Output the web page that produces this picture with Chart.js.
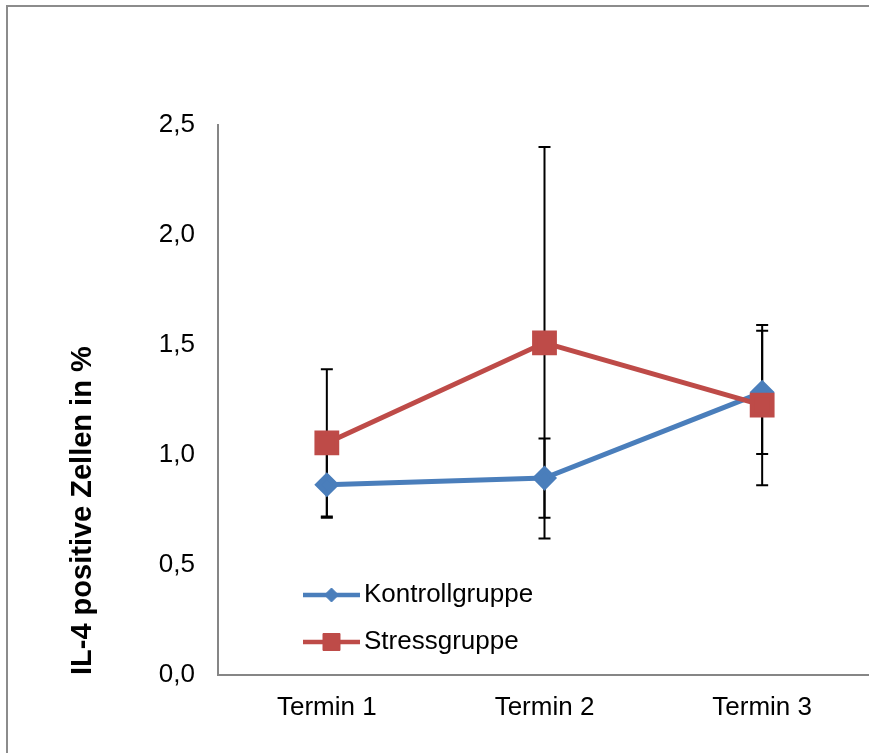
<!DOCTYPE html>
<html>
<head>
<meta charset="utf-8">
<script src="https://cdn.jsdelivr.net/npm/chart.js@4"></script>
<style>
html, body { margin: 0; padding: 0; overflow: hidden; background: #fff; }
#frame { position: absolute; left: 6px; top: 5px; width: 900px; height: 800px; border: 2px solid #8c8c8c; }
#il4 { position: absolute; left: 0; top: 0; }
</style>
</head>
<body>
<div id="frame"></div>
<canvas id="il4" width="890" height="753"></canvas>
<script>
const termine = ['Termin 1', 'Termin 2', 'Termin 3']
const kontrolle = [0.865, 0.895, 1.285]
const kontrolleErr = [0.15, 0.18, 0.28]
const stress = [1.055, 1.51, 1.227]
const stressErr = [0.335, 0.89, 0.364]
const yTicks = [0, 0.5, 1, 1.5, 2, 2.5]

const font = "'Liberation Sans', Arial, sans-serif"

// error bars, drawn behind the lines
const errorBars = {
  id: 'errorBars',
  beforeDatasetsDraw(chart) {
    const ctx = chart.ctx
    const y = chart.scales.y
    ctx.save()
    ctx.strokeStyle = '#000'
    ctx.lineWidth = 2
    chart.data.datasets.forEach((ds, i) => {
      chart.getDatasetMeta(i).data.forEach((pt, j) => {
        const hi = y.getPixelForValue(ds.data[j] + ds.errors[j])
        const lo = y.getPixelForValue(ds.data[j] - ds.errors[j])
        ctx.beginPath()
        ctx.moveTo(pt.x, hi); ctx.lineTo(pt.x, lo)
        ctx.moveTo(pt.x - 6, hi); ctx.lineTo(pt.x + 6, hi)
        ctx.moveTo(pt.x - 6, lo); ctx.lineTo(pt.x + 6, lo)
        ctx.stroke()
      })
    })
    ctx.restore()
  }
}

// legend inside the plot, bottom left
const innerLegend = {
  id: 'innerLegend',
  afterDraw(chart) {
    const ctx = chart.ctx
    const area = chart.chartArea
    const sizes = [7, 12]
    chart.data.datasets.forEach((ds, i) => {
      const y = area.bottom - 80 + i * 47
      const x0 = area.left + 85
      ctx.save()
      ctx.strokeStyle = ds.borderColor
      ctx.lineWidth = 4.5
      ctx.beginPath()
      ctx.moveTo(x0, y); ctx.lineTo(x0 + 57, y)
      ctx.stroke()
      ctx.fillStyle = ds.backgroundColor
      ctx.lineWidth = 1
      Chart.helpers.drawPoint(ctx, { pointStyle: ds.pointStyle, radius: sizes[i], rotation: 0, borderWidth: 1 }, x0 + 28.5, y)
      ctx.fillStyle = '#000'
      ctx.font = '26px ' + font
      ctx.textBaseline = 'middle'
      ctx.fillText(ds.label, x0 + 61, y)
      ctx.restore()
    })
  }
}

new Chart('il4', {
  type: 'line',
  data: {
    labels: termine,
    datasets: [{
      label: 'Kontrollgruppe',
      data: kontrolle,
      errors: kontrolleErr,
      borderColor: '#4A7EBB',
      backgroundColor: '#4A7EBB',
      borderWidth: 5,
      pointStyle: 'rectRot',
      pointRadius: 9,
      tension: 0,
      order: 1
    }, {
      label: 'Stressgruppe',
      data: stress,
      errors: stressErr,
      borderColor: '#BE4B48',
      backgroundColor: '#BE4B48',
      borderWidth: 5,
      pointStyle: 'rect',
      pointRadius: 14,
      tension: 0,
      order: 0
    }]
  },
  options: {
    responsive: false,
    animation: false,
    layout: {
      padding: { top: 125, right: 8, left: 0, bottom: 0 }
    },
    plugins: {
      legend: { display: false },
      tooltip: { enabled: false }
    },
    scales: {
      x: {
        offset: true,
        grid: { display: false, drawTicks: false },
        border: { color: '#868686', width: 2 },
        ticks: { color: '#000', font: { family: font, size: 26 }, padding: 17 },
        afterFit(scale) { scale.height = 78 }
      },
      y: {
        min: 0,
        max: 2.5,
        grid: { display: false, drawTicks: false },
        border: { color: '#868686', width: 2 },
        afterBuildTicks(scale) { scale.ticks = yTicks.map(v => ({ value: v })) },
        ticks: {
          color: '#000',
          font: { family: font, size: 26 },
          padding: 23,
          callback: v => v.toFixed(1).replace('.', ',')
        },
        title: {
          display: true,
          text: 'IL-4 positive Zellen in %',
          align: 'start',
          color: '#000',
          font: { family: font, size: 29, weight: 'bold' },
          padding: { top: 66, bottom: 0 }
        },
        afterFit(scale) { scale.width = 218 }
      }
    }
  },
  plugins: [errorBars, innerLegend]
})
</script>
</body>
</html>
